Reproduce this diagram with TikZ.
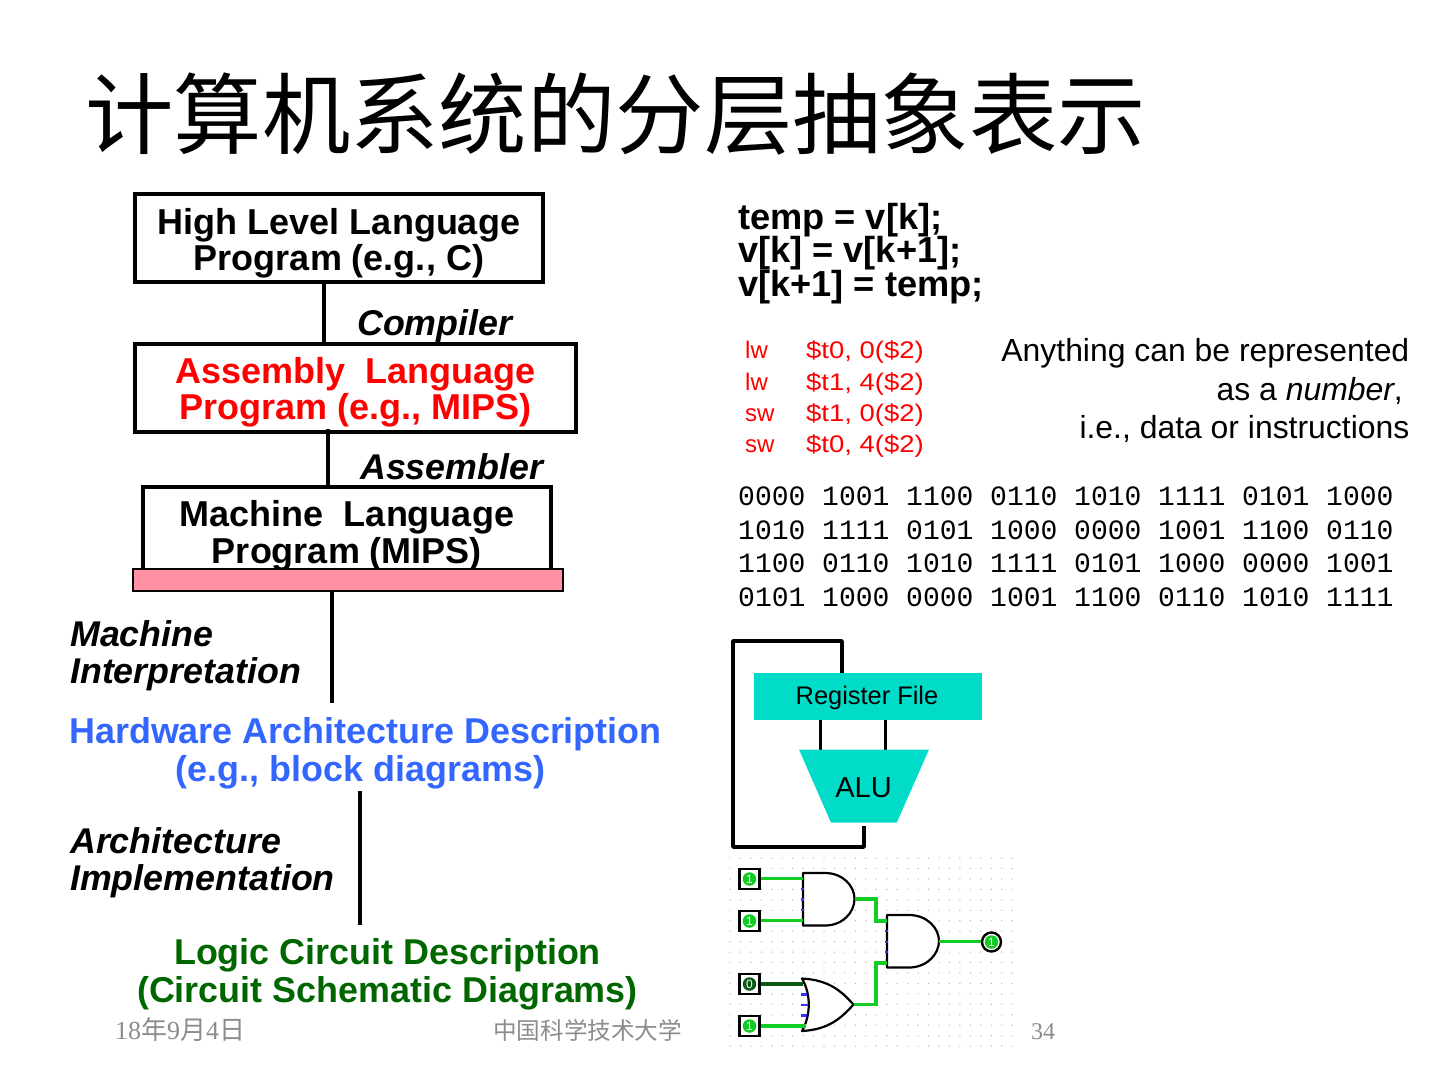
\documentclass[tikz,border=0pt]{standalone}
\usepackage{fontspec}
\setmainfont{Liberation Sans}
\newfontfamily\cjk{Noto Sans CJK SC}
\newfontfamily\footserif{Liberation Serif}
\newfontfamily\codemono{Liberation Mono}
\newfontfamily\widesans[FakeStretch=1.145]{Liberation Sans}
\definecolor{tealfill}{HTML}{00DCC8}
\definecolor{barpink}{HTML}{FF8FA3}
\definecolor{hwblue}{HTML}{3366FF}
\definecolor{logicgreen}{HTML}{006600}
\definecolor{wiregreen}{HTML}{11CC22}
\definecolor{wiredark}{HTML}{0B5A14}
\definecolor{footgray}{HTML}{8C8C8C}
\tikzset{
  x=1pt,y=-1pt,
  bigtext/.style={inner sep=0pt,align=center,font=\fontsize{36}{36.5}\selectfont\bfseries},
  widetext/.style={inner sep=0pt,align=center,font=\fontsize{35.9}{38}\selectfont\bfseries},
  levelbox/.style={draw=black,line width=4pt,fill=white,minimum height=88pt,inner sep=0pt},
  tooltext/.style={inner sep=0pt,anchor=base west,align=left,font=\fontsize{35.8}{36.5}\selectfont\bfseries\itshape},
  linkline/.style={line width=4pt,draw=black},
  loopline/.style={line width=3.6pt,draw=black,line join=round},
  pin/.style={draw=black,line width=2.4pt,fill=white,minimum size=20pt,inner sep=0pt},
  gatebody/.style={draw=black,line width=2.2pt,fill=white,line join=round},
  wireon/.style={draw=wiregreen,line width=3.4pt},
  wireoff/.style={draw=wiredark,line width=3.4pt},
  tick/.style={draw=blue!80!white,line width=2.4pt},
  val/.style={circle,inner sep=0pt,minimum size=13.5pt,fill=wiregreen,text=white,font=\fontsize{12}{12}\selectfont},
  codeline/.style={inner sep=0pt,anchor=base west,text=red,font=\fontsize{24}{24}\selectfont},
  argline/.style={inner sep=0pt,anchor=base west,text=red,font=\fontsize{24}{24}\selectfont\widesans},
  binline/.style={inner sep=0pt,anchor=base west,font=\fontsize{28}{28}\selectfont\codemono},
  srcline/.style={inner sep=0pt,anchor=base west,font=\fontsize{36.2}{36}\selectfont\bfseries},
  noteline/.style={inner sep=0pt,anchor=base east,font=\fontsize{31.9}{32}\selectfont},
  footnote/.style={inner sep=0pt,anchor=base west,text=footgray,font=\fontsize{26}{26}\selectfont},
}
\begin{document}
\begin{tikzpicture}
\useasboundingbox (0,0) rectangle (1440,1080);
\node[inner sep=0pt,anchor=base west,font=\fontsize{88.4}{88}\selectfont\cjk] (title) at (85,147) {计算机系统的分层抽象表示};

% left column
\node[levelbox,minimum width=408pt] (hll) at (339,238) {};
\node[bigtext] (hlltext) at (339,243.5) {High Level Language\\Program (e.g., C)};
\node[levelbox,minimum width=441pt] (asm) at (355.5,387.5) {};
\node[bigtext,text=red] (asmtext) at (355.5,392.5) {Assembly\ \ Language\\Program (e.g., MIPS)};
\node[levelbox,minimum width=408pt,minimum height=94pt] (mach) at (347,534) {};
\node[bigtext] (machtext) at (347,536) {Machine\ \ Language\\Program (MIPS)};
\node[draw=black,line width=1.5pt,fill=barpink,minimum width=430pt,minimum height=22pt,inner sep=0pt] (bar) at (348,580) {};
\node[tooltext] (comp) at (357,335) {Compiler};
\node[tooltext] (assm) at (360,479) {Assembler};
\node[tooltext] (mi) at (70,683) {Machine\\Interpretation};
\node[widetext,text=hwblue] (hw) at (365.5,753.5) {Hardware Architecture Description\\\hspace*{-10pt}(e.g., block diagrams)};
\node[tooltext] (ai) at (70,890) {Architecture\\Implementation};
\node[widetext,text=logicgreen] (lc) at (387.5,974.5) {Logic Circuit Description\\(Circuit Schematic Diagrams)};

\coordinate (a1) at (324,282); \coordinate (a2) at (324,344);
\coordinate (b1) at (328,429); \coordinate (b2) at (328,487);
\coordinate (c1) at (332,591); \coordinate (c2) at (332,703);
\coordinate (d1) at (360,791); \coordinate (d2) at (360,925);
\draw[linkline] (a1) -- (a2);
\draw[linkline] (b1) -- (b2);
\draw[linkline] (c1) -- (c2);
\draw[linkline] (d1) -- (d2);

% right column
\node[srcline] (s1) at (738,229) {temp = v[k];};
\node[srcline] (s2) at (738,262) {v[k] = v[k+1];};
\node[srcline] (s3) at (738,296) {v[k+1] = temp;};

\node[codeline] (op1) at (745,358) {lw};  \node[argline] (ar1) at (806,358) {\$t0, 0(\$2)};
\node[codeline] (op2) at (745,390) {lw};  \node[argline] (ar2) at (806,390) {\$t1, 4(\$2)};
\node[codeline] (op3) at (745,421) {sw};  \node[argline] (ar3) at (806,421) {\$t1, 0(\$2)};
\node[codeline] (op4) at (745,452) {sw};  \node[argline] (ar4) at (806,452) {\$t0, 4(\$2)};

\node[noteline] (n1) at (1409.5,361) {Anything can be represented};
\node[noteline] (n2) at (1403,400) {as a \textit{number},};
\node[noteline] (n3) at (1409.5,438) {i.e., data or instructions};

\node[binline] (b1t) at (738,505) {0000 1001 1100 0110 1010 1111 0101 1000};
\node[binline] (b2t) at (738,539) {1010 1111 0101 1000 0000 1001 1100 0110};
\node[binline] (b3t) at (738,572) {1100 0110 1010 1111 0101 1000 0000 1001};
\node[binline] (b4t) at (738,606) {0101 1000 0000 1001 1100 0110 1010 1111};

% register file / ALU
\coordinate (l1) at (842,673); \coordinate (l2) at (842,641); \coordinate (l3) at (733,641);
\coordinate (l4) at (733,847); \coordinate (l5) at (864,847); \coordinate (l6) at (864,826);
\draw[loopline] (l1) -- (l2) -- (l3) -- (l4) -- (l5) -- (l6);
\coordinate (p1) at (820.5,718); \coordinate (p2) at (820.5,750);
\coordinate (q1) at (885.5,718); \coordinate (q2) at (885.5,750);
\draw[loopline] (p1) -- (p2);
\draw[loopline] (q1) -- (q2);
\node[fill=tealfill,minimum width=228pt,minimum height=47pt,inner sep=0pt] (rf) at (868,696) {};
\node[inner sep=0pt,font=\fontsize{25.4}{25}\selectfont] (rftext) at (867,697.5) {Register File};
\fill[tealfill] (799,749.5) -- (929,749.5) -- (896.7,822.7) -- (831,822.7) -- cycle;
\node[inner sep=0pt,font=\fontsize{29}{29}\selectfont] (alu) at (863.5,787.5) {ALU};

% logic circuit dot grid
\foreach \i in {0,...,27} \foreach \j in {0,...,18}
  \fill[black!30] ({730+10.45*\i},{858+10.45*\j}) circle (0.7pt);

% gates
\draw[gatebody] (803,873) -- (825,873) .. controls (843,873) and (854.5,886) .. (854.5,899) .. controls (854.5,912) and (843,925.5) .. (825,925.5) -- (803,925.5) -- cycle;
\draw[gatebody] (887,915) -- (909,915) .. controls (927,915) and (939,928) .. (939,941) .. controls (939,954) and (927,967.5) .. (909,967.5) -- (887,967.5) -- cycle;
\draw[gatebody] (802,978.5) .. controls (830,980) and (842,992) .. (853.5,1004.5) .. controls (842,1017) and (830,1029.5) .. (802,1031) .. controls (811,1015) and (811,994) .. (802,978.5) -- cycle;

\node[pin] (i1) at (749.5,879) {}; \node[val] (iv1) at (749.5,879) {1};
\node[pin] (i2) at (749.5,921) {}; \node[val] (iv2) at (749.5,921) {1};
\node[pin] (i3) at (749.5,984) {}; \node[val,fill=wiredark] (iv3) at (749.5,984) {0};
\node[pin] (i4) at (749.5,1026) {}; \node[val] (iv4) at (749.5,1026) {1};
\node[circle,draw=black,line width=2.4pt,fill=white,minimum size=19pt,inner sep=0pt] (out) at (991.5,942) {};
\node[val] (ov) at (991.5,942) {1};

\draw[wireon] (i1.east |- 0,878.5) -- (803,878.5);
\draw[wireon] (i2.east |- 0,920.5) -- (803,920.5);
\draw[wireoff] (i3.east) -- (803,984);
\draw[wireon] (i4.east) -- (806,1026);
\draw[wireon] (854.5,899) -- (876,899) -- (876,921) -- (887,921);
\draw[wireon] (853.5,1004.5) -- (876,1004.5) -- (876,963) -- (887,963);
\draw[wireon] (939,941.5) -- (out.west |- 0,941.5);

\foreach \y in {888.7,899.3,910} \draw[tick] (800.5,\y) -- (803.5,\y);
\foreach \y in {931,941.7,952} \draw[tick] (884.5,\y) -- (887.5,\y);
\draw[tick] (800.5,994.3) -- (807,994.3);
\draw[tick] (800.5,1005) -- (808,1005);
\draw[tick] (800.5,1015.3) -- (807,1015.3);

% footer
\node[footnote] (date) at (115,1039) {\footserif 18\cjk 年\footserif 9\cjk 月\footserif 4\cjk 日};
\node[footnote,font=\fontsize{23.6}{24}\selectfont\cjk] (org) at (493,1039) {中国科学技术大学};
\node[footnote,font=\fontsize{24}{24}\selectfont\footserif] (page) at (1031,1039) {34};
\end{tikzpicture}
\end{document}
